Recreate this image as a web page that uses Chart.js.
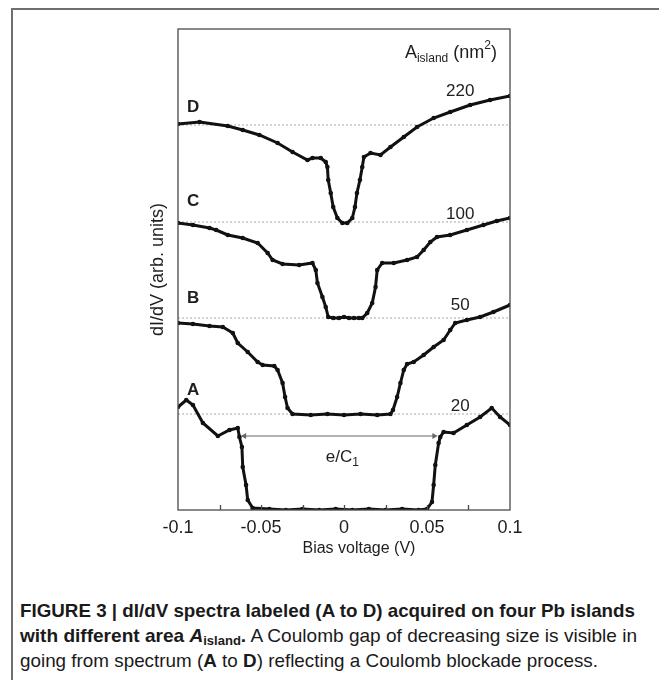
<!DOCTYPE html>
<html><head><meta charset="utf-8">
<script src="https://cdn.jsdelivr.net/npm/chart.js@4.4.1/dist/chart.umd.min.js"></script>
<style>
html,body{margin:0;padding:0;background:#fff;width:659px;height:680px;overflow:hidden;position:relative;font-family:"Liberation Sans",Arial,sans-serif;}
#frameL{position:absolute;left:11px;top:8px;width:2px;height:672px;background:#6f6f6f;}
#frameT{position:absolute;left:11px;top:8px;width:648px;height:2px;background:#6f6f6f;}
#wrap{position:absolute;left:0;top:0;width:659px;height:600px;}
.cap{position:absolute;left:20px;white-space:nowrap;font-size:19px;color:#1a1a1a;transform-origin:0 50%;line-height:20px;display:inline-block;font-family:"Liberation Sans",Arial,sans-serif;}
.cap sub{font-size:13px;vertical-align:-3px;line-height:0;}
</style></head>
<body>
<div id="frameL"></div><div id="frameT"></div>
<div id="wrap"><canvas id="c" width="659" height="600"></canvas></div>
<div class="cap" style="top:601px" data-w="615"><b>FIGURE 3 | dI/dV spectra labeled (A to D) acquired on four Pb islands</b></div>
<div class="cap" style="top:626px" data-w="617"><b>with different area <i>A</i><sub>island</sub>.</b> A Coulomb gap of decreasing size is visible in</div>
<div class="cap" style="top:651px" data-w="578">going from spectrum (<b>A</b> to <b>D</b>) reflecting a Coulomb blockade process.</div>
<script>
// ---- data (bias voltage in V, dI/dV in arbitrary units, curves offset) ----
const biasA = [-0.100,-0.095,-0.091,-0.085,-0.076,-0.069,-0.064,-0.063,-0.0615,-0.061,-0.059,-0.058,-0.055,-0.045,-0.035,-0.025,-0.015,-0.005,0.005,0.015,0.025,0.035,0.045,0.050,0.053,0.054,0.055,0.057,0.058,0.060,0.066,0.074,0.082,0.089,0.094,0.100];
const dIdVA = [1.03,1.10,1.05,0.87,0.74,0.80,0.82,0.73,0.63,0.43,0.25,0.10,0.02,0.01,0.00,0.01,0.00,0.01,0.00,0.01,0.00,0.01,0.00,0.01,0.08,0.25,0.45,0.67,0.73,0.78,0.77,0.85,0.93,1.02,0.93,0.85];

const biasB = [-0.100,-0.091,-0.081,-0.073,-0.067,-0.064,-0.058,-0.052,-0.049,-0.042,-0.040,-0.037,-0.0355,-0.034,-0.031,-0.020,-0.010,0.000,0.010,0.020,0.028,0.0295,0.032,0.034,0.036,0.038,0.042,0.048,0.054,0.060,0.064,0.067,0.074,0.082,0.090,0.100];
const dIdVB = [1.87,1.86,1.84,1.83,1.77,1.67,1.58,1.48,1.45,1.44,1.40,1.27,1.13,1.02,0.96,0.95,0.96,0.95,0.96,0.95,0.96,1.00,1.13,1.27,1.40,1.46,1.48,1.55,1.63,1.70,1.80,1.87,1.90,1.93,1.98,2.05];

const biasC = [-0.100,-0.091,-0.081,-0.077,-0.070,-0.061,-0.052,-0.046,-0.043,-0.037,-0.027,-0.019,-0.017,-0.016,-0.013,-0.011,-0.0095,-0.0065,-0.003,0.000,0.003,0.006,0.009,0.011,0.014,0.017,0.019,0.020,0.023,0.030,0.038,0.044,0.048,0.052,0.056,0.064,0.074,0.084,0.092,0.100];
const dIdVC = [2.87,2.85,2.82,2.80,2.75,2.72,2.67,2.57,2.50,2.46,2.45,2.47,2.40,2.27,2.13,2.03,1.93,1.92,1.92,1.93,1.92,1.92,1.92,1.92,1.97,2.07,2.23,2.40,2.47,2.47,2.50,2.53,2.60,2.68,2.73,2.75,2.80,2.85,2.89,2.92];

const biasD = [-0.100,-0.087,-0.070,-0.061,-0.051,-0.040,-0.031,-0.022,-0.019,-0.014,-0.011,-0.010,-0.0095,-0.008,-0.0065,-0.004,-0.001,0.002,0.005,0.0066,0.0078,0.0096,0.011,0.012,0.016,0.022,0.028,0.036,0.044,0.054,0.064,0.076,0.088,0.100];
const dIdVD = [3.86,3.88,3.84,3.80,3.75,3.67,3.58,3.50,3.52,3.52,3.48,3.43,3.30,3.17,3.03,2.92,2.87,2.87,2.92,3.03,3.17,3.30,3.43,3.53,3.57,3.55,3.63,3.73,3.83,3.92,3.98,4.05,4.10,4.14];

const curveLetters = ["A","B","C","D"];
const islandAreas = ["20","50","100","220"];      // nm^2
const refLevels = [0.96,1.92,2.88,3.85];           // dotted reference lines
const gapArrowX = [-0.0600,0.0543];                // e/C1 arrow ends
const gapArrowY = 0.74;
const xTickValues = [-0.1,-0.05,0,0.05,0.1];
const xMinorTicks = [-0.075,-0.05,-0.025,0,0.025,0.05,0.075];

// ---- build datasets ----
const toPts = (xs, ys) => xs.map((x,i)=>({x, y: ys[i]}));
const curves = [[biasA,dIdVA],[biasB,dIdVB],[biasC,dIdVC],[biasD,dIdVD]];
const datasets = [];
refLevels.forEach(v => datasets.push({
  data:[{x:-0.1,y:v},{x:0.1,y:v}], borderColor:'#a8a8a8', borderWidth:1, borderDash:[2,2],
  pointRadius:0, order:3
}));
curves.forEach(([xs,ys]) => datasets.push({
  data: toPts(xs,ys), borderColor:'#111', backgroundColor:'#111', borderWidth:3,
  pointRadius:2.3, pointBackgroundColor:'#111', pointBorderWidth:0, tension:0, order:1
}));
datasets.push({
  data:[{x:gapArrowX[0],y:gapArrowY},{x:gapArrowX[1],y:gapArrowY}],
  borderColor:'#666', borderWidth:1, pointStyle:'triangle', pointRotation:[270,90],
  pointRadius:3.5, pointBackgroundColor:'#666', pointBorderColor:'#666', pointBorderWidth:0, order:2
});

// text annotations
const FONT = '"Liberation Sans", Arial, sans-serif';
function drawRuns(ctx, x, y, runs, align){
  let w = 0;
  runs.forEach(r => { ctx.font = (r.bold?'bold ':'') + r.size + 'px ' + FONT; r.w = ctx.measureText(r.t).width; w += r.w; });
  let cx = align === 'center' ? x - w/2 : x;
  ctx.textBaseline = 'alphabetic'; ctx.textAlign = 'left';
  runs.forEach(r => { ctx.font = (r.bold?'bold ':'') + r.size + 'px ' + FONT; ctx.fillText(r.t, cx, y + (r.dy||0)); cx += r.w; });
}

const decor = {
  id:'decor',
  afterDatasetsDraw(chart){
    const {ctx, chartArea:a, scales:{x, y}} = chart;
    ctx.save();
    ctx.strokeStyle = '#4a4a4a'; ctx.lineWidth = 1.3;
    ctx.strokeRect(a.left, a.top, a.right - a.left, a.bottom - a.top);
    xMinorTicks.forEach(v => {
      const px = Math.round(x.getPixelForValue(v)) + 0.5;
      ctx.beginPath(); ctx.moveTo(px, a.bottom); ctx.lineTo(px, a.bottom - 5); ctx.stroke();
    });
    ctx.fillStyle = '#1e1e1e';
    const letterY = [1.21, 2.13, 3.10, 4.04];
    curveLetters.forEach((t,i) => drawRuns(ctx, x.getPixelForValue(-0.0946), y.getPixelForValue(letterY[i]) + 6, [{t, size:17, bold:true}], 'left'));
    const areaY = [1.05, 2.06, 2.97, 4.20];
    islandAreas.forEach((t,i) => drawRuns(ctx, x.getPixelForValue(0.0700), y.getPixelForValue(areaY[i]) + 6, [{t, size:17}], 'center'));
    drawRuns(ctx, x.getPixelForValue(0.0367), y.getPixelForValue(4.52), [
      {t:'A', size:18}, {t:'island', size:12, dy:4}, {t:' (nm', size:18}, {t:'2', size:12, dy:-9}, {t:')', size:18}
    ], 'left');
    drawRuns(ctx, x.getPixelForValue(-0.001), y.getPixelForValue(0.54) + 6, [
      {t:'e/C', size:17}, {t:'1', size:12, dy:4}
    ], 'center');
    drawRuns(ctx, x.getPixelForValue(0.009), 553, [{t:'Bias voltage (V)', size:16}], 'center');
    ctx.restore();
  }
};

new Chart(document.getElementById('c'), {
  type:'line',
  data:{datasets},
  options:{
    responsive:false, animation:false, devicePixelRatio:1,
    layout:{padding:{left:0, top:29, right:149, bottom:0}},
    plugins:{legend:{display:false}, tooltip:{enabled:false}},
    scales:{
      x:{type:'linear', position:'bottom', min:-0.1, max:0.1,
         afterFit(s){ s.height = 90; },
         afterBuildTicks(s){ s.ticks = xTickValues.map(v=>({value:v})); },
         ticks:{ padding:7, color:'#1e1e1e', font:{family:FONT, size:18},
                 callback:(v)=> String(+(+v).toFixed(3)) },
         grid:{display:false, drawTicks:false}, border:{display:false},
         title:{display:false, text:'Bias voltage (V)'}
      },
      y:{type:'linear', min:0, max:4.81,
         afterFit(s){ s.width = 178; },
         ticks:{display:false}, grid:{display:false, drawTicks:false}, border:{display:false},
         title:{display:true, text:'dI/dV (arb. units)', color:'#1e1e1e', font:{family:FONT, size:18},
                padding:{top:147, bottom:0}}
      }
    }
  },
  plugins:[decor]
});

function fitCaps(){
  document.querySelectorAll('.cap').forEach(el => {
    el.style.transform = 'none';
    const w = el.getBoundingClientRect().width;
    const target = +el.dataset.w;
    el.style.transform = 'scaleX(' + (target / w) + ')';
  });
}
fitCaps();
if (document.fonts && document.fonts.ready) document.fonts.ready.then(fitCaps);
</script>
</body></html>
